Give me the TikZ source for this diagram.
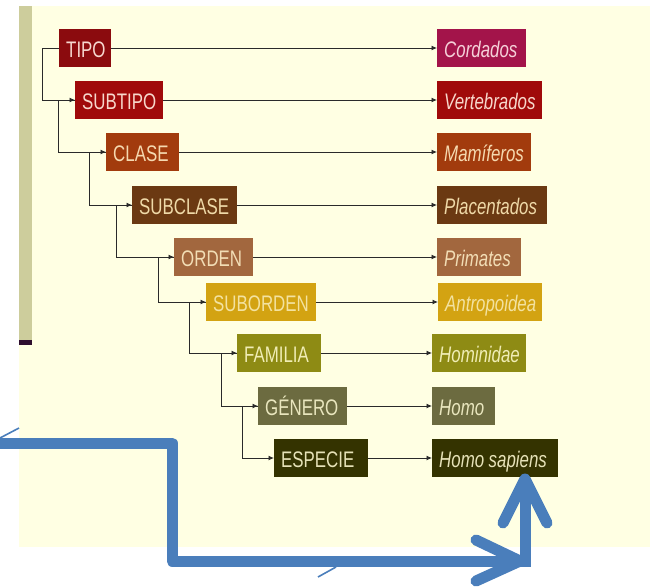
\documentclass[tikz,border=0pt]{standalone}
\usepackage{fontspec}
\setmainfont{Liberation Sans}[FakeStretch=0.75]
\usetikzlibrary{arrows.meta}
\definecolor{cream}{HTML}{FFFFE3}
\definecolor{barcol}{HTML}{CDCD9C}
\definecolor{bardark}{HTML}{2E0E2E}
\definecolor{annblue}{HTML}{4A7EBB}
\definecolor{linegray}{HTML}{2A2A2A}
\definecolor{fTipo}{HTML}{8B0B0E}\definecolor{tTipo}{HTML}{F7D8D0}
\definecolor{fCord}{HTML}{A3144A}\definecolor{tCord}{HTML}{F5D0D8}
\definecolor{fSubt}{HTML}{A00A0A}\definecolor{tSubt}{HTML}{F7D8CC}
\definecolor{fClas}{HTML}{A23B0D}\definecolor{tClas}{HTML}{F5D9B0}
\definecolor{fScla}{HTML}{6B3912}\definecolor{tScla}{HTML}{EFD9A8}
\definecolor{fOrd}{HTML}{A2673E}\definecolor{tOrd}{HTML}{F2DDB5}
\definecolor{fSord}{HTML}{D3A312}\definecolor{tSord}{HTML}{F3E2A0}
\definecolor{fFam}{HTML}{8E8B14}\definecolor{tFam}{HTML}{F0EDB5}
\definecolor{fGen}{HTML}{6C6B40}\definecolor{tGen}{HTML}{E9E6BE}
\definecolor{fEsp}{HTML}{343300}\definecolor{tEsp}{HTML}{E6E2B8}
\begin{document}
\begin{tikzpicture}[x=1pt,y=-1pt,
  box/.style={anchor=west, minimum height=38pt, inner xsep=0pt, inner ysep=0pt,
    align=left, text height=19pt, text depth=0pt,
    font=\fontsize{22.5}{22.5}\selectfont, execute at begin node={\hspace*{7pt}}},
  rbox/.style={box, font=\fontsize{22.5}{22.5}\selectfont\itshape},
  conn/.style={draw=linegray, line width=0.9pt, -{Latex[length=5.5pt,width=5pt]}},
  annot/.style={draw=annblue, line width=11pt, line join=round},
  tick/.style={draw=annblue, line width=1.6pt}]
\useasboundingbox (0,0) rectangle (650,586);
\fill[white] (0,0) rectangle (650,586);
\fill[cream] (19,6) rectangle (650,547);
\fill[barcol] (19,6) rectangle (32,340);
\fill[bardark] (19,340) rectangle (32,345);

% left column
\node[box, fill=fTipo, text=tTipo, text width=52pt] (tipo) at (59,48) {TIPO};
\node[box, fill=fSubt, text=tSubt, text width=88pt] (subtipo) at (75,100) {SUBTIPO};
\node[box, fill=fClas, text=tClas, text width=73pt] (clase) at (106,152) {CLASE};
\node[box, fill=fScla, text=tScla, text width=105pt] (subclase) at (132,205) {SUBCLASE};
\node[box, fill=fOrd, text=tOrd, text width=79pt] (orden) at (174,257) {ORDEN};
\node[box, fill=fSord, text=tSord, text width=110pt] (suborden) at (206,302) {SUBORDEN};
\node[box, fill=fFam, text=tFam, text width=84pt] (familia) at (237,353) {FAMILIA};
\node[box, fill=fGen, text=tGen, text width=89pt] (genero) at (258,406) {GÉNERO};
\node[box, fill=fEsp, text=tEsp, text width=94pt] (especie) at (274,458) {ESPECIE};

% right column
\node[rbox, fill=fCord, text=tCord, text width=89pt] (cordados) at (437,48) {Cordados};
\node[rbox, fill=fSubt, text=tSubt, text width=105pt] (vertebrados) at (437,100) {Vertebrados};
\node[rbox, fill=fClas, text=tClas, text width=94pt] (mamiferos) at (437,152) {Mamíferos};
\node[rbox, fill=fScla, text=tScla, text width=110pt] (placentados) at (437,205) {Placentados};
\node[rbox, fill=fOrd, text=tOrd, text width=84pt] (primates) at (437,257) {Primates};
\node[rbox, fill=fSord, text=tSord, text width=104pt] (antropoidea) at (438,302) {Antropoidea};
\node[rbox, fill=fFam, text=tFam, text width=94pt] (hominidae) at (432,353) {Hominidae};
\node[rbox, fill=fGen, text=tGen, text width=63pt] (homo) at (432,406) {Homo};
\node[rbox, fill=fEsp, text=tEsp, text width=126pt] (sapiens) at (432,458) {Homo\hspace{4.5pt}sapiens};

% horizontal arrows
\draw[conn] (tipo.east) -- (cordados.west);
\draw[conn] (subtipo.east) -- (vertebrados.west);
\draw[conn] (clase.east) -- (mamiferos.west);
\draw[conn] (subclase.east) -- (placentados.west);
\draw[conn] (orden.east) -- (primates.west);
\draw[conn] (suborden.east) -- (antropoidea.west);
\draw[conn] (familia.east) -- (hominidae.west);
\draw[conn] (genero.east) -- (homo.west);
\draw[conn] (especie.east) -- (sapiens.west);

% elbow connectors
\draw[conn] (tipo.west) -- ++(-17,0) |- (subtipo.west);
\draw[conn] (subtipo.west) -- ++(-17,0) |- (clase.west);
\draw[conn] (clase.west) -- ++(-17,0) |- (subclase.west);
\draw[conn] (subclase.west) -- ++(-16,0) |- (orden.west);
\draw[conn] (orden.west) -- ++(-16,0) |- (suborden.west);
\draw[conn] (suborden.west) -- ++(-17,0) |- (familia.west);
\draw[conn] (familia.west) -- ++(-16,0) |- (genero.west);
\draw[conn] (genero.west) -- ++(-16,0) |- (especie.west);

% blue annotation arrow
\coordinate (a0) at (0,443);
\coordinate (a1) at (172,443);
\coordinate (a2) at (172,561);
\coordinate (a3) at (525,561);
\coordinate (a4) at (525,479);
\draw[annot] (a0) -- (a1) -- (a2) -- (a3);
\draw[annot, line cap=round] (476,540) -- (520,561) -- (476,581);
\draw[annot] (525,567) -- (a4);
\draw[annot, line cap=round] (503,523) -- (a4) -- (547,523);
\draw[tick] (0,438) -- (19,428);
\draw[tick] (318,577) -- (336,567);
\end{tikzpicture}
\end{document}
